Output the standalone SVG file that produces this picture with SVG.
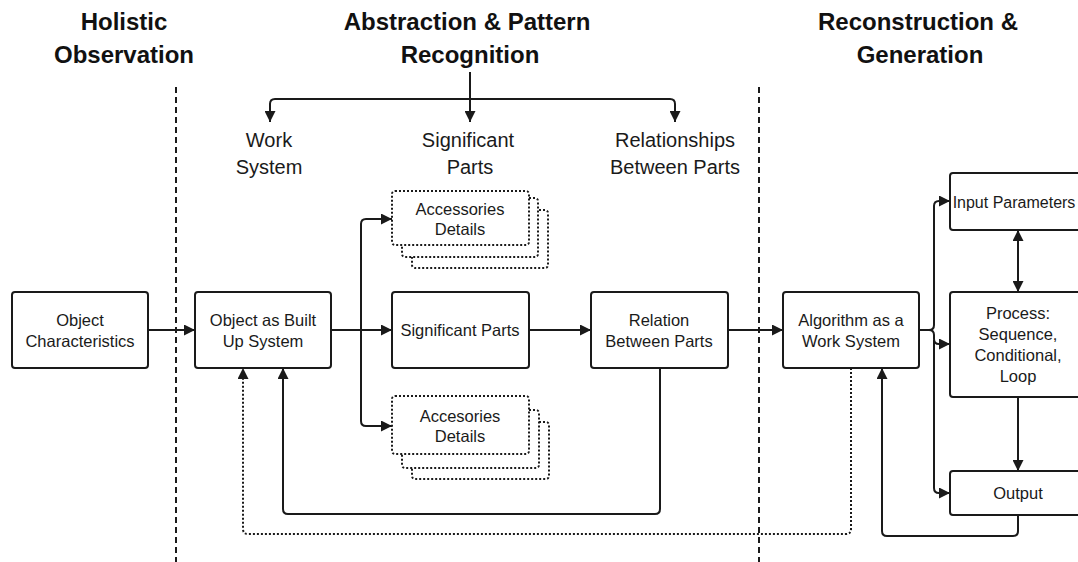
<svg xmlns="http://www.w3.org/2000/svg" width="1078" height="562" viewBox="0 0 1078 562">
<defs>
<marker id="ah" viewBox="0 0 10 10" refX="10" refY="5" markerWidth="11" markerHeight="11" markerUnits="userSpaceOnUse" orient="auto-start-reverse">
<path d="M0,0 L10,5 L0,10 z" fill="#1a1a1a"/>
</marker>
<style>
.hdr{font-family:"Liberation Sans",Arial,sans-serif;font-weight:bold;font-size:24px;fill:#111;text-anchor:middle}
.lbl{font-family:"Liberation Sans",Arial,sans-serif;font-size:20px;fill:#1a1a1a;text-anchor:middle}
.t{font-family:"Liberation Sans",Arial,sans-serif;font-size:16.5px;fill:#1a1a1a;text-anchor:middle}
.box{fill:#fff;stroke:#1a1a1a;stroke-width:2}
.dbox{fill:#fff;stroke:#1a1a1a;stroke-width:2;stroke-dasharray:2 2}
.c{fill:none;stroke:#1a1a1a;stroke-width:2}
.cd{fill:none;stroke:#1a1a1a;stroke-width:2;stroke-dasharray:2 2}
.div{fill:none;stroke:#1a1a1a;stroke-width:2;stroke-dasharray:6 4}
</style>
</defs>
<rect width="1078" height="562" fill="#fff"/>

<g id="headers">
<text class="hdr" x="124" y="30">Holistic</text>
<text class="hdr" x="124" y="63">Observation</text>
<text class="hdr" x="467" y="30">Abstraction &amp; Pattern</text>
<text class="hdr" x="470" y="63">Recognition</text>
<text class="hdr" x="918" y="30">Reconstruction &amp;</text>
<text class="hdr" x="920" y="63">Generation</text>
</g>

<g id="dividers">
<line class="div" x1="176" y1="87" x2="176" y2="562"/>
<line class="div" x1="759" y1="87" x2="759" y2="562"/>
</g>

<g id="labels">
<text class="lbl" x="269" y="147">Work</text>
<text class="lbl" x="269" y="174">System</text>
<text class="lbl" x="468" y="147">Significant</text>
<text class="lbl" x="470" y="174">Parts</text>
<text class="lbl" x="675" y="147">Relationships</text>
<text class="lbl" x="675" y="174">Between Parts</text>
</g>

<g id="connectors">
<path class="c" d="M470,72 V122" marker-end="url(#ah)"/>
<path class="c" d="M470,99 H275 Q270,99 270,104 V122" marker-end="url(#ah)"/>
<path class="c" d="M470,99 H670 Q675,99 675,104 V122" marker-end="url(#ah)"/>
<path class="c" d="M148,330 H195" marker-end="url(#ah)"/>
<path class="c" d="M331,330 H392" marker-end="url(#ah)"/>
<path class="c" d="M361,330 V224 Q361,219 366,219 H392" marker-end="url(#ah)"/>
<path class="c" d="M361,330 V421 Q361,426 366,426 H392" marker-end="url(#ah)"/>
<path class="c" d="M529,330 H591" marker-end="url(#ah)"/>
<path class="c" d="M728,330 H783" marker-end="url(#ah)"/>
<path class="c" d="M660,368 V509 Q660,514 655,514 H288 Q283,514 283,509 V368" marker-end="url(#ah)"/>
<path class="cd" d="M851,368 V529 Q851,534 846,534 H248 Q243,534 243,529 V368" marker-end="url(#ah)"/>
<path class="c" d="M919,330 H929 Q934,330 934,325 V206 Q934,201 939,201 H950" marker-end="url(#ah)"/>
<path class="c" d="M929,330 Q934,330 934,335 V339 Q934,344 939,344 H950" marker-end="url(#ah)"/>
<path class="c" d="M934,340 V488 Q934,493 939,493 H950" marker-end="url(#ah)"/>
<path class="c" d="M1018,230 V292" marker-start="url(#ah)" marker-end="url(#ah)"/>
<path class="c" d="M1018,397 V471" marker-end="url(#ah)"/>
<path class="c" d="M1018,515 V531 Q1018,536 1013,536 H887 Q882,536 882,531 V368" marker-end="url(#ah)"/>
</g>

<g id="object-characteristics">
<rect class="box" x="12" y="292" width="136" height="76" rx="3"/>
<text class="t" x="80" y="326">Object</text>
<text class="t" x="80" y="347">Characteristics</text>
</g>
<g id="object-built-up">
<rect class="box" x="195" y="292" width="136" height="76" rx="3"/>
<text class="t" x="263" y="326">Object as Built</text>
<text class="t" x="263" y="347">Up System</text>
</g>
<g id="accessories-top">
<rect class="dbox" x="412" y="210" width="136" height="58" rx="3"/>
<rect class="dbox" x="402" y="198" width="136" height="59" rx="3"/>
<rect class="dbox" x="392" y="191" width="137" height="54" rx="3"/>
<text class="t" x="460" y="215">Accessories</text>
<text class="t" x="460" y="235">Details</text>
</g>
<g id="significant-parts">
<rect class="box" x="392" y="292" width="137" height="76" rx="3"/>
<text class="t" x="460" y="336">Significant Parts</text>
</g>
<g id="accessories-bottom">
<rect class="dbox" x="412" y="422" width="137" height="57" rx="3"/>
<rect class="dbox" x="402" y="410" width="137" height="58" rx="3"/>
<rect class="dbox" x="392" y="396" width="137" height="58" rx="3"/>
<text class="t" x="460" y="422">Accesories</text>
<text class="t" x="460" y="442">Details</text>
</g>
<g id="relation-between-parts">
<rect class="box" x="591" y="292" width="137" height="76" rx="3"/>
<text class="t" x="659" y="326">Relation</text>
<text class="t" x="659" y="347">Between Parts</text>
</g>
<g id="algorithm">
<rect class="box" x="783" y="292" width="136" height="76" rx="3"/>
<text class="t" x="851" y="326">Algorithm as a</text>
<text class="t" x="851" y="347">Work System</text>
</g>
<g id="input-parameters">
<rect class="box" x="950" y="173" width="140" height="57" rx="3"/>
<text class="t" x="1014" y="208" style="font-size:16px">Input Parameters</text>
</g>
<g id="process">
<rect class="box" x="950" y="292" width="140" height="105" rx="3"/>
<text class="t" x="1018" y="319">Process:</text>
<text class="t" x="1018" y="340">Sequence,</text>
<text class="t" x="1018" y="361">Conditional,</text>
<text class="t" x="1018" y="382">Loop</text>
</g>
<g id="output">
<rect class="box" x="950" y="471" width="140" height="44" rx="3"/>
<text class="t" x="1018" y="499">Output</text>
</g>
</svg>
